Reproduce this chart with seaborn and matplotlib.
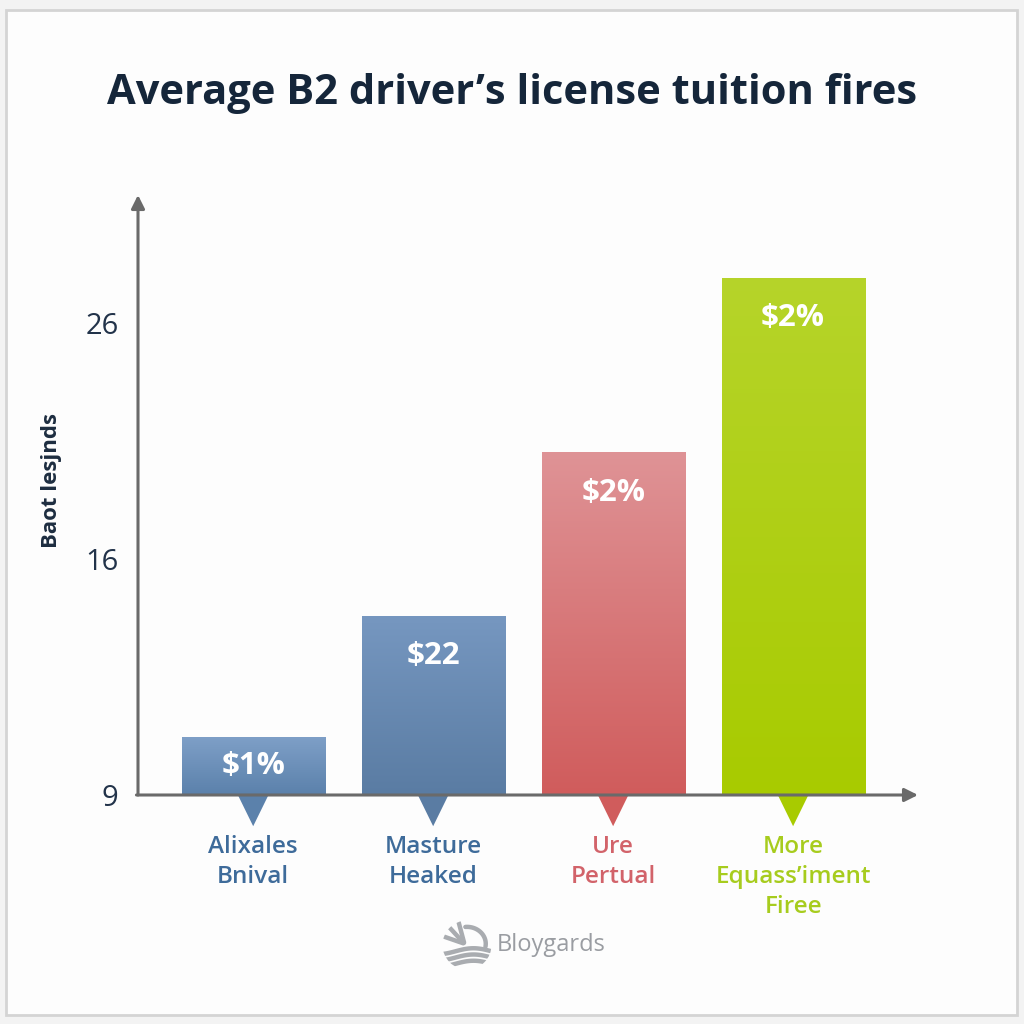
import numpy as np
import matplotlib
matplotlib.use("Agg")
import matplotlib.pyplot as plt
import matplotlib.transforms as mtransforms
from matplotlib.patches import Rectangle, Polygon, Circle
from matplotlib.colors import LinearSegmentedColormap
import pandas as pd
import seaborn as sns

# ---------------- data ----------------
title = "Average B2 driver\u2019s license tuition fires"
y_label = "Baot lesjnds"
categories = ["Alixales\nBnival", "Masture\nHeaked", "Ure\nPertual", "More\nEquass\u2019iment\nFiree"]
tuition = [10.7, 14.3, 20.5, 27.9]
value_labels = ["$1%", "$22", "$2%", "$2%"]
y_ticks = [9, 16, 26]
y_tick_labels = ["9", "16", "26"]
brand = "Bloygards"

bar_top_colors = ["#7e9fc7", "#7697c0", "#df9396", "#b6d42a"]
bar_bottom_colors = ["#5b81ab", "#5a7ca3", "#d05c5c", "#a8cb00"]
label_colors = ["#3e6b9a", "#3e6b9a", "#d2636a", "#a7cc1e"]


# piecewise-linear value axis through the printed ticks
def fwd(v):
    v = np.asarray(v, dtype=float)
    return np.where(v < 16, (v - 9) / 7.0, 1 + (v - 16) / 10.0)


def inv(u):
    u = np.asarray(u, dtype=float)
    return np.where(u < 1, 9 + 7.0 * u, 16 + 10.0 * (u - 1))


sns.set_theme(style="white")
plt.rcParams["font.family"] = ["Open Sans", "DejaVu Sans"]

W = 1024.0
fig = plt.figure(figsize=(10.24, 10.24), dpi=100, facecolor="#f3f3f3")
fig.patches.append(Rectangle((6 / W, 9 / W), (1017 - 6) / W, (1014 - 9) / W,
                             transform=fig.transFigure, facecolor="#fdfdfd",
                             edgecolor="#d4d4d4", lw=2, zorder=-10))

ax = fig.add_axes([138 / W, (W - 795) / W, 780 / W, 600 / W])
ax.set_facecolor("none")

df = pd.DataFrame({"category": categories, "tuition": tuition})
sns.barplot(data=df, x="category", y="tuition", hue="category",
            palette=bar_bottom_colors, width=0.795, saturation=1,
            legend=False, linewidth=0, ax=ax)

ax.set_yscale("function", functions=(fwd, inv))
XLIM = (-0.64, 3.694)
YLIM = (9, 31.42)
ax.set_xlim(*XLIM)
ax.set_ylim(*YLIM)

for s in ax.spines.values():
    s.set_visible(False)

# gradient fill + value labels + pointer triangles
blend = mtransforms.blended_transform_factory(ax.transData, ax.transAxes)
to_axes = ax.transAxes.inverted()
ax_h_px = 600.0
for i, patch in enumerate(ax.patches[:len(categories)]):
    bb = patch.get_window_extent()
    x0, y0 = to_axes.transform((bb.x0, bb.y0))
    x1, y1 = to_axes.transform((bb.x1, bb.y1))
    y0 = max(y0, 0.0)
    cmap = LinearSegmentedColormap.from_list(f"g{i}", [bar_bottom_colors[i], bar_top_colors[i]])
    grad = np.linspace(0, 1, 256).reshape(-1, 1)
    ax.imshow(grad, extent=[x0, x1, y0, y1], origin="lower", transform=ax.transAxes,
              cmap=cmap, aspect="auto", zorder=patch.get_zorder() + 0.1, interpolation="bicubic")
    h_px = (y1 - y0) * ax_h_px
    off = min(40.0, h_px / 2.0) / ax_h_px
    ax.text(patch.get_x() + patch.get_width() / 2, y1 - off, value_labels[i], transform=blend,
            ha="center", va="center", color="white", fontsize=22.5, fontweight="bold", zorder=5)
    cx = patch.get_x() + patch.get_width() / 2
    tri = Polygon([(cx - 0.085, 0.0), (cx + 0.085, 0.0), (cx, -0.052)], closed=True,
                  transform=blend, facecolor=bar_bottom_colors[i], edgecolor="none",
                  clip_on=False, zorder=3)
    ax.add_patch(tri)

ax.set_xlim(*XLIM)
ax.set_ylim(*YLIM)

# arrows for axes
arrow_kw = dict(arrowstyle="-|>", color="#6a6a6a", lw=2.2, mutation_scale=20, shrinkA=0, shrinkB=0)
ax.annotate("", xy=(0, 1.0), xytext=(0, 0), xycoords="axes fraction",
            textcoords="axes fraction", arrowprops=arrow_kw, zorder=6)
ax.annotate("", xy=(1.0, 0), xytext=(-0.002, 0), xycoords="axes fraction",
            textcoords="axes fraction", arrowprops=arrow_kw, zorder=6)

# ticks
ax.set_yticks(y_ticks)
ax.set_yticklabels(y_tick_labels)
ax.yaxis.set_minor_locator(matplotlib.ticker.NullLocator())
ax.tick_params(axis="y", length=0, pad=14, labelsize=21, labelcolor="#22334a")
ax.set_xticks(range(len(categories)))
ax.set_xticklabels(categories)
ax.tick_params(axis="x", length=0, pad=29, labelsize=17.5)
for lbl, col in zip(ax.get_xticklabels(), label_colors):
    lbl.set_color(col)
    lbl.set_fontweight("semibold")
    lbl.set_linespacing(1.32)
ax.set_xlabel("")
ax.set_ylabel("")

# title and axis label
fig.text(0.5, 1 - 93 / W, title, ha="center", va="center", fontsize=30,
         fontweight="bold", color="#15263a")
fig.text(51 / W, 1 - 480 / W, y_label, rotation=90, ha="center", va="center",
         fontsize=16, fontweight="bold", color="#1d2d40")

# brand logo
fig.text(497 / W, 1 - 945 / W, brand, ha="left", va="center", fontsize=17, color="#9a9da2")
lax = fig.add_axes([442 / W, 1 - 970 / W, 50 / W, 50 / W])
lax.set_facecolor("none")
lax.set_xlim(-1, 1)
lax.set_ylim(-1, 1)
lax.set_aspect("equal")
lax.axis("off")
clip = Circle((0, 0), 0.98, transform=lax.transData)
t = np.linspace(-1, 1, 100)
for c in [-0.75, -0.5, -0.25]:
    ln, = lax.plot(t, c + 0.12 * np.sin(2.2 * t + 1.0), color="#a9acb0", lw=3.2)
    ln.set_clip_path(clip)
for ang in [110, 135, 160]:
    a = np.deg2rad(ang)
    ln, = lax.plot([0.05 * np.cos(a) - 0.1, 1.0 * np.cos(a)], [0.05 * np.sin(a) + 0.05, 1.0 * np.sin(a)],
                   color="#a9acb0", lw=3.2)
    ln.set_clip_path(clip)
for r in [0.75]:
    th = np.linspace(np.deg2rad(-10), np.deg2rad(95), 50)
    ln, = lax.plot(r * np.cos(th), r * np.sin(th) * 0.9 + 0.05, color="#a9acb0", lw=3.2)
    ln.set_clip_path(clip)

fig.savefig("out.png", dpi=100, facecolor=fig.get_facecolor())
